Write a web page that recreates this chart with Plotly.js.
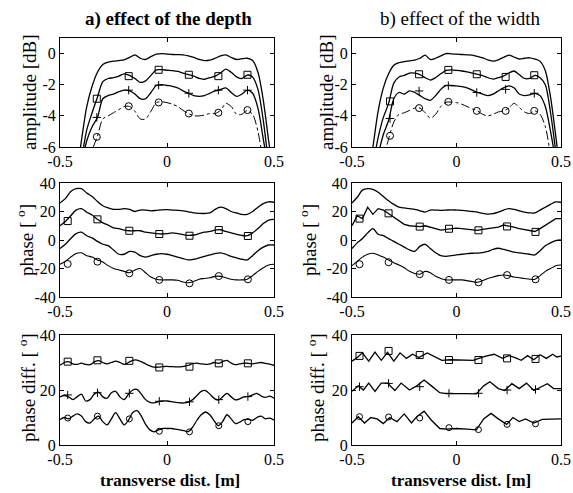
<!DOCTYPE html>
<html><head><meta charset="utf-8">
<script src="https://cdn.plot.ly/plotly-3.0.1.min.js"></script>
<style>html,body{margin:0;padding:0;background:#fff}#plot{width:573px;height:493px}</style>
</head><body><div id="plot"></div>
<script>
// ---------- DATA ----------
const xA = [-0.5,-0.475,-0.45,-0.425,-0.4,-0.375,-0.35,-0.325,-0.3,-0.275,-0.25,-0.225,-0.2,-0.175,-0.15,-0.125,-0.1,-0.075,-0.05,-0.025,0,0.025,0.05,0.075,0.1,0.125,0.15,0.175,0.2,0.225,0.25,0.275,0.3,0.325,0.35,0.375,0.4,0.425,0.45,0.475,0.5];

// amplitude, a) depth
const ampA1 = [-14,-12,-10,-8,-5.6,-3.4,-2.1,-1.2,-0.7,-0.55,-0.48,-0.45,-0.4,-0.25,-0.08,-0.3,-0.38,-0.2,-0.03,0,-0.03,-0.06,-0.07,-0.08,-0.15,-0.25,-0.38,-0.45,-0.42,-0.3,-0.15,-0.08,-0.25,-0.38,-0.33,-0.3,-0.45,-1.2,-3.0,-5.6,-8];
const ampA2 = [-14,-12,-10,-8.5,-6.8,-4.9,-3.8,-2.8,-1.8,-1.6,-1.55,-1.45,-1.3,-1.4,-1.6,-1.85,-1.75,-1.4,-1.05,-1.03,-1.07,-1.1,-1.15,-1.25,-1.35,-1.45,-1.6,-1.65,-1.55,-1.45,-1.25,-1.0,-1.2,-1.5,-1.6,-1.38,-1.5,-2.3,-4.3,-7,-9];
const ampA3 = [-14,-13,-11,-9,-7.2,-5.6,-4.7,-4.1,-2.9,-2.7,-2.6,-2.45,-2.35,-2.4,-2.6,-2.9,-2.9,-2.5,-2.05,-2.0,-2.05,-2.1,-2.2,-2.4,-2.55,-2.7,-2.75,-2.7,-2.55,-2.4,-2.3,-2.2,-2.5,-2.75,-2.6,-2.35,-2.55,-3.5,-5.5,-7.5,-9.5];
const ampA4 = [-15,-14,-12,-10,-8.5,-7.2,-6.2,-5.3,-4.2,-4.0,-3.8,-3.6,-3.4,-3.4,-3.7,-4.2,-4.2,-3.7,-3.15,-3.1,-3.15,-3.25,-3.4,-3.65,-3.85,-4.0,-4.0,-3.95,-3.85,-3.85,-3.65,-3.2,-3.4,-3.9,-3.9,-3.65,-3.9,-5.0,-7.0,-9,-11];
// amplitude, b) width
const ampB1 = [-14,-12,-10,-8,-6.0,-3.7,-2.2,-1.3,-0.75,-0.58,-0.52,-0.47,-0.42,-0.3,-0.1,-0.38,-0.3,-0.15,0,-0.02,-0.04,-0.06,-0.08,-0.1,-0.18,-0.28,-0.4,-0.48,-0.4,-0.25,-0.1,-0.22,-0.35,-0.3,-0.27,-0.35,-0.5,-1.1,-2.8,-5.3,-8];
const ampB2 = [-14,-12,-10.5,-9,-7.2,-5.4,-4.1,-3.2,-1.9,-1.5,-1.4,-1.25,-1.25,-1.35,-1.55,-1.7,-1.55,-1.3,-1.08,-1.05,-1.08,-1.12,-1.18,-1.25,-1.33,-1.42,-1.55,-1.64,-1.55,-1.45,-1.25,-1.12,-1.35,-1.6,-1.6,-1.4,-1.55,-2.0,-3.8,-6.3,-9];
const ampB3 = [-15,-13,-11,-9.5,-8,-6.5,-5.2,-4.3,-2.9,-2.5,-2.6,-2.4,-2.5,-2.7,-2.9,-3.0,-2.7,-2.3,-2.05,-2.05,-2.08,-2.12,-2.2,-2.35,-2.5,-2.6,-2.7,-2.6,-2.4,-2.2,-2.07,-2.2,-2.6,-2.7,-2.65,-2.55,-2.7,-3.4,-5.0,-7,-9.5];
const ampB4 = [-16,-14,-12.5,-11,-9.5,-8,-6.7,-5.5,-4.4,-3.9,-3.8,-3.65,-3.5,-3.5,-3.8,-4.15,-3.9,-3.4,-3.12,-3.12,-3.15,-3.25,-3.4,-3.55,-3.68,-3.9,-4.0,-3.9,-3.75,-3.68,-3.5,-3.2,-3.45,-3.75,-3.85,-3.68,-3.9,-4.7,-6.5,-8.5,-11];

// phase, a) depth
const phA1 = [26,29,34,36,36,33,30.5,27,24,22.5,21.5,21.5,22,21.5,20,21,21,20.5,20.8,21.2,21.3,21,20.8,20.5,19.8,19,18.7,18.6,19,21.5,23,22,20,19,18,18,20,23,25.5,26.8,26.5];
const phA2 = [10,13,17,21,22,19.5,17.5,14.5,12,10.5,8.5,8,7,6.5,6.5,6.5,5.5,5,4.5,4.2,4.5,5,4.5,3.8,3.2,3.5,4.5,5.5,6,7,7.2,6,5,4,3.2,3,5,8,11.5,14,14.5];
const phA3 = [-6,-3,1,4.5,5.5,3,1.5,-1,-3,-4,-7,-10,-10,-8,-8.5,-11,-12,-11,-10,-9.5,-10,-11,-12,-13,-14,-13.5,-12.5,-11.5,-10.5,-9.5,-9,-10,-11.5,-12.5,-13.5,-14,-11,-7.5,-5,-3.5,-3.5];
const phA4 = [-17,-15,-12,-9.5,-9,-11,-12,-14,-15.5,-18,-20,-21,-22,-23,-21,-20,-23,-26,-27.5,-28,-28,-28,-28.3,-29.5,-30,-29,-27.5,-27,-26.5,-25.5,-25.5,-26.5,-27.5,-28,-28,-27.5,-25,-22,-19.5,-17.5,-17];
// phase, b) width
const phB1 = [26,30,35,36,35.5,33.5,30.5,27.5,25,23,22.5,22,21.5,20.5,19.6,21,21,20.8,21,21.2,21,20.8,20.5,20,19.5,18.7,18.2,18.5,19.5,21,22,21.5,20.5,19.5,19,19,21,23,25,26.7,26.5];
const phB2 = [10,17,15,23,18,22,21,18.5,16,13,11,10,9.5,9.4,10,9,7.5,7,7.5,8,8.3,8,7.5,7,6.8,7.5,8,8.5,9,10.5,10,9,8,7.5,6.5,6,8,10.5,13,15,15];
const phB3 = [-6,-2,1,5,8,4,3,1,-1,-3,-5,-7,-8,-4.5,-3,-6,-9,-11,-11.5,-11,-10.5,-10,-9.5,-9.3,-9.2,-8.8,-8,-6.5,-5.8,-6.5,-7.5,-8.5,-9,-9.5,-10,-10.5,-7.5,-4,-2,-0.5,0];
const phB4 = [-18,-15,-12,-10,-9.3,-10.5,-12,-14,-16,-17.5,-19.5,-22,-23.5,-24,-22,-23,-25.5,-27,-28,-28,-28,-28,-28.5,-29.2,-29.7,-28.5,-27,-26,-25,-24.6,-25,-26,-26.5,-27,-27.5,-27.6,-25,-22,-20,-18,-17.5];

// phase difference, a) depth
const xD = [-0.5,-0.48,-0.46,-0.44,-0.42,-0.4,-0.38,-0.36,-0.34,-0.32,-0.3,-0.28,-0.26,-0.24,-0.22,-0.2,-0.18,-0.16,-0.14,-0.12,-0.1,-0.08,-0.06,-0.04,-0.02,0,0.02,0.04,0.06,0.08,0.1,0.12,0.14,0.16,0.18,0.2,0.22,0.24,0.26,0.28,0.3,0.32,0.34,0.36,0.38,0.4,0.42,0.44,0.46,0.48,0.5];
const pdA1 = [29,30,30.3,29.5,29.3,29.8,29.3,29.2,30.2,30.7,30,29.5,30,30.5,30,29.3,30,30.8,30.9,30.3,29.5,28.8,28.3,28.3,28.5,28.6,28.5,28.4,28.4,28.6,29,29.6,29.8,29.5,29.3,29.5,30,29.7,30.3,30.8,29.8,29.2,29.5,29.8,29.7,29.5,29.8,30,29.7,29.4,29];
const pdA2 = [17.5,18,17.5,16.5,17.5,18.5,16,16.5,18.5,19.2,17.5,17,19,19.5,17.5,16.5,18.5,20,20.2,18.5,16.5,15.5,15.3,15.8,16,16,15.8,15.5,15.3,15.3,15.6,16.5,18,19.5,19.8,18.5,17,16.3,17.5,18.8,17.5,16.4,16.8,17.5,17.6,18.2,18.8,17.8,17.3,17.8,17];
const pdA3 = [9.3,10,9.5,10.5,11.3,10.5,8.5,8,9.5,10.5,8.5,7.3,9.5,11.8,9.5,7.3,9,11.8,12.5,10.5,7.5,5.5,4.8,5.5,6,6,6,5.8,5.5,5.2,4.9,6.5,9,11,12,11,8.8,7,8.5,11,9.5,7.8,8.3,9.2,9.3,9,10,10.5,9.5,9.8,9];
// phase difference, b) width (vertices)
const xB1 = [-0.5,-0.48,-0.45,-0.42,-0.39,-0.36,-0.33,-0.3,-0.27,-0.24,-0.21,-0.18,-0.14,-0.1,-0.07,-0.03,0.02,0.08,0.1,0.14,0.18,0.22,0.25,0.28,0.31,0.34,0.37,0.4,0.43,0.46,0.48,0.5];
const pdB1 = [30.5,31.5,33.5,30.5,33.8,30.8,33.7,30.5,33.5,31.5,33,31.8,33.5,32,30.8,31,31,30.8,31.3,32.3,33,31.5,32.5,31.8,30.8,32.5,31,32.8,31.5,33,32,32.3];
const xB2 = [-0.5,-0.47,-0.445,-0.42,-0.39,-0.36,-0.33,-0.295,-0.265,-0.225,-0.19,-0.155,-0.12,-0.08,-0.05,0,0.05,0.095,0.13,0.16,0.2,0.23,0.265,0.3,0.335,0.37,0.405,0.435,0.465,0.5];
const pdB2 = [19.5,21.5,20,22.5,19.5,22.5,22.5,19.8,22.5,20,21.5,23.6,21.5,19,18.7,18.8,18.7,18.6,21.5,23,20.5,19.8,22.3,20.5,22.5,19.8,21.2,22.3,20.5,20.5];
const xB3 = [-0.5,-0.47,-0.44,-0.41,-0.38,-0.35,-0.32,-0.285,-0.25,-0.215,-0.19,-0.155,-0.12,-0.08,-0.05,0,0.05,0.095,0.13,0.165,0.2,0.24,0.27,0.3,0.33,0.37,0.41,0.45,0.5];
const pdB3 = [8,10.3,8,10,9.5,7.8,10,8.5,11.3,8,10.3,12.3,9,6,5.8,6,5.8,5.5,9.5,11.5,9.5,7.5,10,8.5,9.5,8,9.3,9.5,9.5];

// marker positions
const mkA = [-0.328,-0.179,-0.039,0.102,0.24,0.376];
const ampA2m = [-2.9,-1.45,-1.04,-1.36,-1.45,-1.36];
const ampA3m = [-4.1,-2.35,-2.03,-2.55,-2.35,-2.35];
const ampA4m = [-5.35,-3.38,-3.14,-3.85,-3.8,-3.63];
const mkB = [-0.318,-0.179,-0.039,0.097,0.235,0.372];
const ampB2m = [-3.07,-1.33,-1.05,-1.33,-1.5,-1.39];
const ampB3m = [-4.17,-2.4,-2.06,-2.5,-2.3,-2.55];
const ampB4m = [-5.28,-3.5,-3.1,-3.68,-3.68,-3.68];
const mkP = [-0.464,-0.325,-0.176,-0.036,0.105,0.242,0.378];
const phA2m = [13.3,14.5,6.5,4.2,3.0,7.0,2.8];
const phA4m = [-16.8,-15.2,-23.4,-28,-30.4,-25.3,-27.6];
const phB2m = [15,18.7,9.4,7.9,6.8,9.5,5.7];
const phB4m = [-17,-15.6,-24,-28,-29.7,-24.6,-27.6];
const pdA1m = [30.3,30.8,30.6,28.2,28.5,29.7,29.7];
const pdA2m = [18.2,19,18.8,15.9,15.7,16.5,17.6];
const pdA3m = [9.8,10.5,9.5,5.0,4.8,7.0,8.5];
const pdB1m = [32.4,34.2,32.7,30.9,30.9,31.5,31.3];
const pdB2m = [21.2,22.4,21.2,18.8,18.8,20,20.2];
const pdB3m = [10.3,10.2,9.8,6.3,5.6,7.5,7.7];

const xTickVals = [-0.5,0,0.5];
const xTickText = ['-0.5','0','0.5'];

// ---------- PLOT ----------
const traces = [];
function line(x, y, ax, opts) {
  opts = opts || {};
  traces.push({x: x, y: y, xaxis: 'x'+ax, yaxis: 'y'+ax, mode: 'lines', hoverinfo: 'skip',
    line: {color: '#000', width: opts.w || 1.3, shape: opts.shape || 'spline', smoothing: 0.8, dash: opts.dash || 'solid'}});
}
function marks(x, y, ax, sym, size) {
  traces.push({x: x, y: y, xaxis: 'x'+ax, yaxis: 'y'+ax, mode: 'markers', hoverinfo: 'skip',
    marker: {symbol: sym, size: size || 7, color: '#000', line: {color: '#000', width: 1}}});
}
line(xA, ampA1, 1); line(xA, ampA2, 1); line(xA, ampA3, 1); line(xA, ampA4, 1, {w: 1, dash: 'dashdot'});
marks(mkA, ampA2m, 1, 'square-open'); marks(mkA, ampA3m, 1, 'cross-thin-open', 6); marks(mkA, ampA4m, 1, 'circle-open');
line(xA, ampB1, 2); line(xA, ampB2, 2); line(xA, ampB3, 2); line(xA, ampB4, 2, {w: 1, dash: 'dashdot'});
marks(mkB, ampB2m, 2, 'square-open'); marks(mkB, ampB3m, 2, 'cross-thin-open', 6); marks(mkB, ampB4m, 2, 'circle-open');

line(xA, phA1, 3); line(xA, phA2, 3); line(xA, phA3, 3); line(xA, phA4, 3, {w: 1.1});
marks(mkP, phA2m, 3, 'square-open'); marks(mkP, phA4m, 3, 'circle-open');
line(xA, phB1, 4); line(xA, phB2, 4, {shape: 'linear'}); line(xA, phB3, 4); line(xA, phB4, 4, {w: 1.1});
marks(mkP, phB2m, 4, 'square-open'); marks(mkP, phB4m, 4, 'circle-open');

line(xD, pdA1, 5); line(xD, pdA2, 5); line(xD, pdA3, 5);
marks(mkP, pdA1m, 5, 'square-open'); marks(mkP, pdA2m, 5, 'cross-thin-open', 6); marks(mkP, pdA3m, 5, 'circle-open', 6);
line(xB1, pdB1, 6, {shape: 'linear'}); line(xB2, pdB2, 6, {shape: 'linear'}); line(xB3, pdB3, 6, {shape: 'linear'});
marks(mkP, pdB1m, 6, 'square-open'); marks(mkP, pdB2m, 6, 'cross-thin-open', 6); marks(mkP, pdB3m, 6, 'circle-open', 6);

const W = 573, H = 493;
const colX = [[60, 274], [352, 561]];
const rowY = [[38, 147], [183, 297], [335, 445]];
const yRanges = [[-6, 1], [-40, 40], [0, 40]];
const yTicks = [[-6,-4,-2,0], [-40,-20,0,20,40], [0,20,40]];
const serif = 'Liberation Serif';
const tickFont = {family: serif, size: 16, color: '#000'};
const layout = {width: W, height: H, margin: {l:0, r:0, t:0, b:0}, showlegend: false,
  font: {family: serif, size: 16, color: '#000'},
  paper_bgcolor: '#fff', plot_bgcolor: '#fff', annotations: []};
for (let r = 0; r < 3; r++) {
  for (let c = 0; c < 2; c++) {
    const i = r*2 + c + 1;
    const xd = [colX[c][0]/W, colX[c][1]/W];
    const yd = [1 - rowY[r][1]/H, 1 - rowY[r][0]/H];
    const common = {showline: true, linecolor: '#000', linewidth: 1, mirror: 'ticks', ticks: 'inside', ticklen: 4,
      tickcolor: '#000', showgrid: false, zeroline: false, tickfont: tickFont, fixedrange: true};
    layout['xaxis'+(i===1?'':i)] = Object.assign({}, common, {domain: xd, range: [-0.5, 0.5], anchor: 'y'+i,
      tickmode: 'array', tickvals: xTickVals, ticktext: xTickText});
    layout['yaxis'+(i===1?'':i)] = Object.assign({}, common, {domain: yd, range: yRanges[r], anchor: 'x'+i,
      tickmode: 'array', tickvals: yTicks[r], ticktext: yTicks[r].map(String)});
  }
}
function ann(text, px, py, size, angle, bold) {
  layout.annotations.push({text: bold ? '<b>'+text+'</b>' : text, x: px/W, y: 1 - py/H, xref: 'paper', yref: 'paper',
    showarrow: false, textangle: angle || 0, xanchor: 'center', yanchor: 'middle',
    font: {family: serif, size: size, color: '#000'}});
}
ann('a) effect of the depth', 168, 19, 19, 0, true);
ann('b) effect of the width', 460, 19, 19, 0, false);
ann('amplitude [dB]', 30, 92, 19, -90);
ann('amplitude [dB]', 327, 92, 19, -90);
ann('phase [ <sup>o</sup>]', 25, 240, 19, -90);
ann('phase [ <sup>o</sup>]', 308, 240, 19, -90);
ann('phase diff. [ <sup>o</sup>]', 27, 388, 19, -90);
ann('phase diff. [ <sup>o</sup>]', 316, 388, 19, -90);
ann('transverse dist. [m]', 170, 480, 17, 0, true);
ann('transverse dist. [m]', 461, 480, 17, 0, true);

Plotly.newPlot('plot', traces, layout, {staticPlot: true, displayModeBar: false});
</script></body></html>
